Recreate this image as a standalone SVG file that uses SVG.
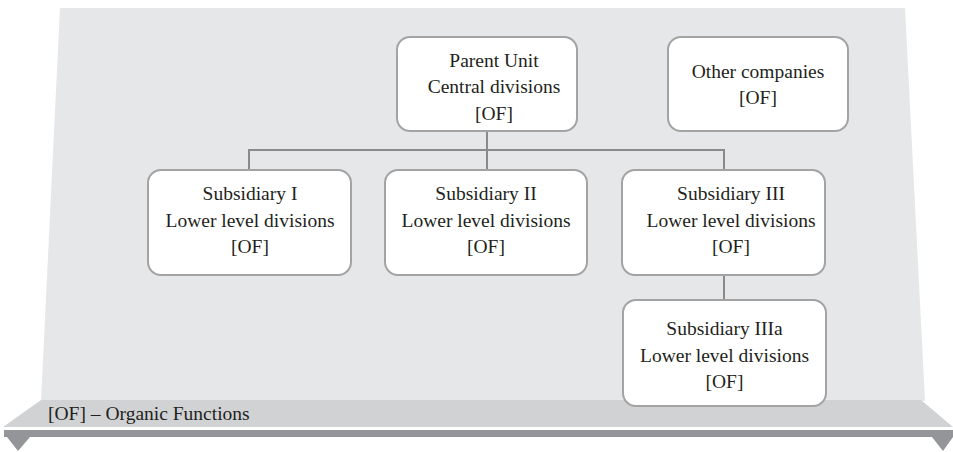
<svg xmlns="http://www.w3.org/2000/svg" width="953" height="452" viewBox="0 0 953 452">
<style>
.box{fill:#ffffff;stroke:#a3a3a3;stroke-width:2}
.t{font-family:"Liberation Serif","Times New Roman",serif;font-size:19.5px;fill:#231f20;text-anchor:middle}
.lg{font-family:"Liberation Serif","Times New Roman",serif;font-size:19.5px;fill:#231f20}
.c{stroke:#8a8a8a;stroke-width:2;fill:none}
</style>
<g id="background">
<polygon points="60,8 905,8 925,401 41,401" fill="#e6e7e8"/>
<polygon points="41,400 921,400 953,427 3,427" fill="#d1d2d4"/>
<rect x="4" y="430" width="949" height="7" fill="#939598"/>
<polygon points="7,437 30,437 18,451" fill="#939598"/>
<polygon points="932,437 953,437 943,451" fill="#939598"/>
<text class="lg" x="48" y="420">[OF] – Organic Functions</text>
</g>
<g id="connectors">
<line class="c" x1="487" y1="131" x2="487" y2="150"/>
<line class="c" x1="249" y1="150" x2="724" y2="150"/>
<line class="c" x1="249" y1="149" x2="249" y2="170"/>
<line class="c" x1="487" y1="149" x2="487" y2="170"/>
<line class="c" x1="724" y1="149" x2="724" y2="170"/>
<line class="c" x1="724" y1="275" x2="724" y2="300"/>
</g>
<g id="parent">
<rect class="box" x="397" y="37" width="180" height="94" rx="13"/>
<text class="t" x="494" y="67">Parent Unit</text>
<text class="t" x="494" y="93">Central divisions</text>
<text class="t" x="494" y="120">[OF]</text>
</g>
<g id="other">
<rect class="box" x="668" y="37" width="180" height="94" rx="13"/>
<text class="t" x="758" y="78">Other companies</text>
<text class="t" x="758" y="104">[OF]</text>
</g>
<g id="sub1">
<rect class="box" x="148" y="170" width="203" height="105" rx="13"/>
<text class="t" x="250" y="200">Subsidiary I</text>
<text class="t" x="250" y="227">Lower level divisions</text>
<text class="t" x="250" y="253">[OF]</text>
</g>
<g id="sub2">
<rect class="box" x="385" y="170" width="202" height="105" rx="13"/>
<text class="t" x="486" y="200">Subsidiary II</text>
<text class="t" x="486" y="227">Lower level divisions</text>
<text class="t" x="486" y="253">[OF]</text>
</g>
<g id="sub3">
<rect class="box" x="622" y="170" width="203" height="105" rx="13"/>
<text class="t" x="731" y="200">Subsidiary III</text>
<text class="t" x="731" y="227">Lower level divisions</text>
<text class="t" x="731" y="253">[OF]</text>
</g>
<g id="sub3a">
<rect class="box" x="623" y="300" width="203" height="106" rx="13"/>
<text class="t" x="724.5" y="335">Subsidiary IIIa</text>
<text class="t" x="724.5" y="362">Lower level divisions</text>
<text class="t" x="724.5" y="388">[OF]</text>
</g>
</svg>
